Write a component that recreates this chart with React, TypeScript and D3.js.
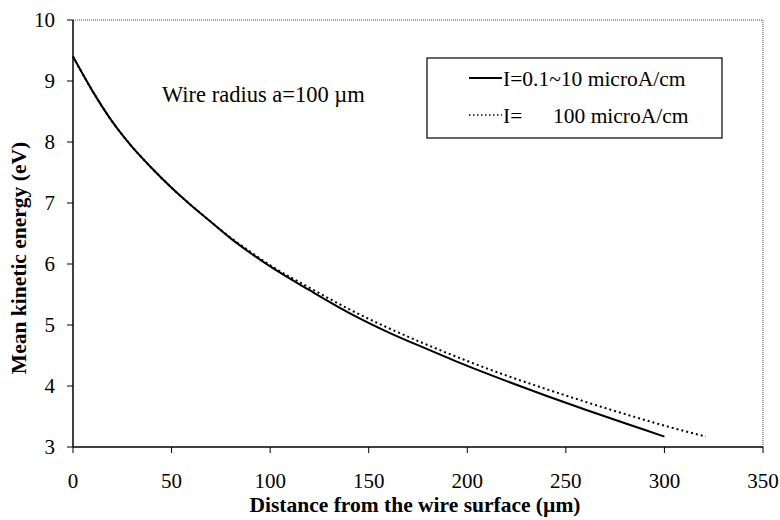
import React from "react";
import * as d3 from "d3";

const xSolid = [0, 10, 20, 30, 40, 50, 60, 70, 80, 90, 100, 120, 140, 160, 180, 200, 220, 240, 260, 280, 300];
const ySolid = [9.40, 8.83, 8.33, 7.92, 7.57, 7.25, 6.96, 6.69, 6.42, 6.18, 5.96, 5.57, 5.20, 4.88, 4.60, 4.33, 4.08, 3.84, 3.61, 3.39, 3.17];
const xDotted = [0, 10, 20, 30, 40, 50, 60, 70, 80, 90, 100, 120, 140, 160, 180, 200, 220, 240, 260, 280, 300, 321];
const yDotted = [9.40, 8.83, 8.33, 7.92, 7.57, 7.25, 6.96, 6.69, 6.43, 6.20, 5.98, 5.61, 5.26, 4.95, 4.67, 4.41, 4.17, 3.95, 3.74, 3.54, 3.35, 3.17];
const xTicks = [0, 50, 100, 150, 200, 250, 300, 350];
const yTicks = [3, 4, 5, 6, 7, 8, 9, 10];
const legendLabels = ["I=0.1~10 microA/cm", "100 microA/cm"];

const FONT = '"Liberation Serif", "Times New Roman", "DejaVu Serif", serif';
const tf = (size: number, bold = false): React.CSSProperties => ({
  fontFamily: FONT,
  fontSize: size,
  fontWeight: bold ? "bold" : "normal",
});

export default function App() {
  const W = 780, H = 520;
  const left = 73, right = 763, top = 20, bottom = 447;
  const x = d3.scaleLinear().domain([0, 350]).range([left, right]);
  const y = d3.scaleLinear().domain([3, 10]).range([bottom, top]);
  const line = d3
    .line<[number, number]>()
    .x((d) => x(d[0]))
    .y((d) => y(d[1]))
    .curve(d3.curveMonotoneX);
  const solid = line(xSolid.map((v, i) => [v, ySolid[i]]) as [number, number][]) || "";
  const dotted = line(xDotted.map((v, i) => [v, yDotted[i]]) as [number, number][]) || "";

  return (
    <div style={{ position: "absolute", left: 0, top: 0 }}>
      <svg width={W} height={H} style={{ display: "block", background: "#fff", fontFamily: FONT }}>
        <rect x={0} y={0} width={W} height={H} fill="#fff" />
        {/* dotted frame top/right */}
        <line x1={left} x2={right} y1={top} y2={top} stroke="#444" strokeWidth={1} strokeDasharray="1,1" />
        <line x1={right} x2={right} y1={top} y2={bottom} stroke="#444" strokeWidth={1} strokeDasharray="1,1" />
        {/* axes */}
        <line x1={left} x2={left} y1={top} y2={bottom} stroke="#000" strokeWidth={1.5} />
        <line x1={left} x2={right} y1={bottom} y2={bottom} stroke="#000" strokeWidth={1.5} />
        {yTicks.map((t) => (
          <g key={"y" + t}>
            <line x1={left - 6} x2={left} y1={y(t)} y2={y(t)} stroke="#000" strokeWidth={1} />
            <text x={55} y={y(t)} dy="0.34em" textAnchor="end" style={tf(21)}>
              {t}
            </text>
          </g>
        ))}
        {xTicks.map((t) => (
          <g key={"x" + t}>
            <line x1={x(t)} x2={x(t)} y1={bottom} y2={bottom + 6} stroke="#000" strokeWidth={1} />
            <text x={x(t)} y={488} textAnchor="middle" style={tf(21)}>
              {t}
            </text>
          </g>
        ))}
        {/* curves */}
        <path d={dotted} fill="none" stroke="#000" strokeWidth={2} strokeDasharray="2,3" />
        <path d={solid} fill="none" stroke="#000" strokeWidth={2} />
        {/* annotation */}
        <text x={162} y={102} style={tf(22.5)}>
          Wire radius a=100 µm
        </text>
        {/* legend */}
        <rect x={427} y={58} width={295} height={80} fill="#fff" stroke="#000" strokeWidth={1.2} />
        <line x1={469} x2={502} y1={78} y2={78} stroke="#000" strokeWidth={2} />
        <text x={503} y={86} style={tf(21.5)}>
          {legendLabels[0]}
        </text>
        <line x1={469} x2={502} y1={115} y2={115} stroke="#000" strokeWidth={1.6} strokeDasharray="1.5,2.5" />
        <text x={503} y={123} style={tf(21.5)}>
          I=
        </text>
        <text x={553} y={123} style={tf(21.5)}>
          {legendLabels[1]}
        </text>
        {/* axis titles */}
        <text x={(left + right) / 2 - 3} y={512} textAnchor="middle" style={tf(21.5, true)}>
          Distance from the wire surface (µm)
        </text>
        <text transform="translate(26, 258) rotate(-90)" textAnchor="middle" style={tf(21.5, true)}>
          Mean kinetic energy (eV)
        </text>
      </svg>
    </div>
  );
}
